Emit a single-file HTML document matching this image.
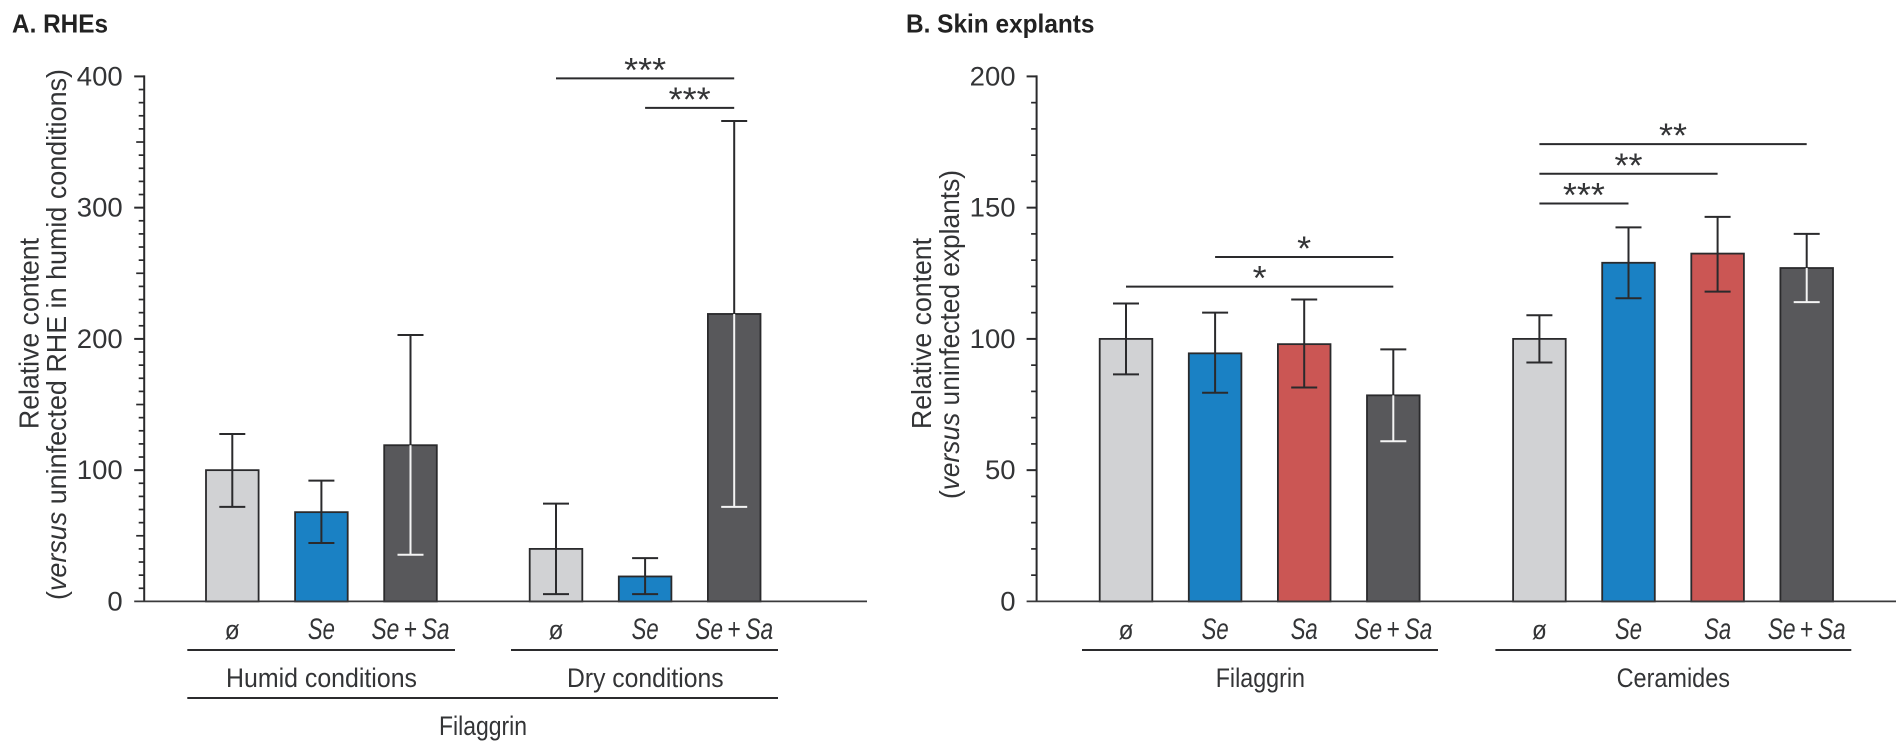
<!DOCTYPE html>
<html lang="en">
<head>
<meta charset="utf-8">
<title>Relative content bar charts</title>
<style>
html,body{margin:0;padding:0;background:#fff;width:1902px;height:751px;overflow:hidden}
svg{display:block}
text{font-family:"Liberation Sans",sans-serif;fill:#333436}
</style>
</head>
<body>
<svg id="figure" xmlns="http://www.w3.org/2000/svg" width="1902" height="751" viewBox="0 0 1902 751">
  <text x="12" y="32.5" font-size="26" font-weight="700" style="fill:#222" textLength="96" lengthAdjust="spacingAndGlyphs">A. RHEs</text>
  <text x="906" y="32.5" font-size="26" font-weight="700" style="fill:#222" textLength="188.5" lengthAdjust="spacingAndGlyphs">B. Skin explants</text>

  <text transform="translate(38.5,429) rotate(-90)" font-size="27.5" textLength="191" lengthAdjust="spacingAndGlyphs">Relative content</text>
  <text transform="translate(66,600) rotate(-90)" font-size="27.5" textLength="531" lengthAdjust="spacingAndGlyphs">(<tspan font-style="italic">versus</tspan> uninfected RHE in humid conditions)</text>
  <text transform="translate(931,429) rotate(-90)" font-size="27.5" textLength="191" lengthAdjust="spacingAndGlyphs">Relative content</text>
  <text transform="translate(959,499) rotate(-90)" font-size="27.5" textLength="329" lengthAdjust="spacingAndGlyphs">(<tspan font-style="italic">versus</tspan> uninfected explants)</text>

  <text x="226" y="687" font-size="26.5" textLength="191" lengthAdjust="spacingAndGlyphs">Humid conditions</text>
  <text x="567" y="687" font-size="26.5" textLength="156.6" lengthAdjust="spacingAndGlyphs">Dry conditions</text>
  <text x="439" y="735" font-size="26.5" textLength="88" lengthAdjust="spacingAndGlyphs">Filaggrin</text>
  <text x="1215.7" y="687" font-size="26.5" textLength="89.3" lengthAdjust="spacingAndGlyphs">Filaggrin</text>
  <text x="1616.6" y="687" font-size="26.5" textLength="113.4" lengthAdjust="spacingAndGlyphs">Ceramides</text>

  <g stroke="#2b2b2d" stroke-width="2">
    <line x1="187.3" x2="455" y1="650" y2="650"/>
    <line x1="511" x2="778" y1="650" y2="650"/>
    <line x1="187.3" x2="778" y1="698" y2="698"/>
    <line x1="1082" x2="1438" y1="650" y2="650"/>
    <line x1="1495.4" x2="1851.3" y1="650" y2="650"/>
  </g>
  <g id="plots"></g>
</svg>
<script>
// Panel A data
const aCategories = ['ø', 'Se', 'Se+Sa', 'ø', 'Se', 'Se+Sa'];
const aValues = [100, 68, 119, 40, 19, 219];
const aErrHigh = [127.5, 92, 203, 74.5, 33, 366];
const aErrLow = [72, 44.5, 35.5, 5.5, 5.5, 72];
const aColors = ['grey', 'blue', 'dark', 'grey', 'blue', 'dark'];
const aTicks = [0, 100, 200, 300, 400];
const aSigFrom = [3, 4];
const aSigTo = [5, 5];
const aSigLevel = [398.5, 376];
const aSigMark = ['***', '***'];

// Panel B data
const bCategories = ['ø', 'Se', 'Sa', 'Se+Sa', 'ø', 'Se', 'Sa', 'Se+Sa'];
const bValues = [100, 94.5, 98, 78.5, 100, 129, 132.5, 127];
const bErrHigh = [113.5, 110, 115, 96, 109, 142.5, 146.5, 140];
const bErrLow = [86.5, 79.5, 81.5, 61, 91, 115.5, 118, 114];
const bColors = ['grey', 'blue', 'red', 'dark', 'grey', 'blue', 'red', 'dark'];
const bTicks = [0, 50, 100, 150, 200];
const bSigFrom = [4, 4, 4, 1, 0];
const bSigTo = [7, 6, 5, 3, 3];
const bSigLevel = [174.2, 162.9, 151.6, 131.2, 119.9];
const bSigMark = ['**', '**', '***', '*', '*'];

const palette = {grey: '#d1d2d4', blue: '#1a81c4', red: '#cb5654', dark: '#58585b'};
const NS = 'http://www.w3.org/2000/svg';
const root = document.getElementById('plots');

function mk(tag, attrs, parent) {
  const el = document.createElementNS(NS, tag);
  for (const k in attrs) el.setAttribute(k, attrs[k]);
  parent.appendChild(el);
  return el;
}

function drawPanel(p) {
  const g = mk('g', {}, root);
  
  
  const y = v => p.y0 - v * (p.y0 - p.yTop) / p.yMax;
  const cx = i => i < p.split ? p.x0 + i * p.step : p.x1 + (i - p.split) * p.step;
  const barW = 52.6;

  // bars
  p.values.forEach((v, i) => {
    const bar = mk('rect', {x: cx(i) - barW / 2, y: y(v), width: barW, height: y(0) - y(v), fill: palette[p.colors[i]], stroke: '#2a2a2c', 'stroke-width': 1.8}, g);
    
    
  });

  // axes
  const yAxis = mk('line', {x1: p.axisX, x2: p.axisX, y1: y(p.yMax) - 1, y2: y(0), stroke: '#2a2a2c', 'stroke-width': 2}, g);
  
  
  const xAxis = mk('line', {x1: p.axisX - 10, x2: p.axisEnd, y1: y(0), y2: y(0), stroke: '#3a3a3c', 'stroke-width': 1.7}, g);
  
  

  // ticks
  const mid = p.yMax === 400 ? 50 : 1e9;
  for (let v = 10; v <= p.yMax; v += 10) {
    const major = p.ticks.includes(v);
    const len = major ? 10 : (v % mid === 0 ? 8 : 5.5);
    const t = mk('line', {x1: p.axisX - len, x2: p.axisX, y1: y(v), y2: y(v), stroke: '#2a2a2c', 'stroke-width': major ? 2 : 1.7}, g);
    
    
  }
  p.ticks.forEach(v => {
    const label = String(v);
    const t = mk('text', {x: p.tickRight, y: y(v) + 9, 'text-anchor': 'end', 'font-size': 26.5, textLength: label.length * 15.3, lengthAdjust: 'spacingAndGlyphs'}, g);
    t.textContent = label;
    
    
  });

  // error bars
  p.values.forEach((v, i) => {
    const isDark = p.colors[i] === 'dark';
    const low = isDark ? '#f4f4f4' : '#2a2a2c';
    const parts = [
      [cx(i), y(p.errHigh[i]), cx(i), y(v), '#2a2a2c'],
      [cx(i), y(v), cx(i), y(p.errLow[i]), low],
      [cx(i) - 13, y(p.errHigh[i]), cx(i) + 13, y(p.errHigh[i]), '#2a2a2c'],
      [cx(i) - 13, y(p.errLow[i]), cx(i) + 13, y(p.errLow[i]), low]
    ];
    parts.forEach(a => {
      const e = mk('line', {x1: a[0], y1: a[1], x2: a[2], y2: a[3], stroke: a[4], 'stroke-width': 2}, g);
      
      
    });
  });

  // category labels
  p.categories.forEach((c, i) => {
    const t = mk('text', {x: cx(i), y: 639, 'text-anchor': 'middle', 'font-size': c === 'ø' ? 27 : 30}, g);
    t.setAttribute('lengthAdjust', 'spacingAndGlyphs');
    if (c === 'ø') {
      t.setAttribute('textLength', 15);
      t.textContent = c;
    } else if (c.includes('+')) {
      const pair = c.split('+');
      t.setAttribute('textLength', 78);
      const a = mk('tspan', {'font-style': 'italic'}, t);
      a.textContent = pair[0];
      const plus = mk('tspan', {}, t);
      plus.textContent = '\u2009+\u2009';
      const b = mk('tspan', {'font-style': 'italic'}, t);
      b.textContent = pair[1];
    } else {
      t.setAttribute('font-style', 'italic');
      t.setAttribute('textLength', 27);
      t.textContent = c;
    }
    
    
  });

  // significance brackets
  p.sigLevel.forEach((lv, i) => {
    const x1 = cx(p.sigFrom[i]), x2 = cx(p.sigTo[i]);
    const l = mk('line', {x1: x1, x2: x2, y1: y(lv), y2: y(lv), stroke: '#2a2a2c', 'stroke-width': 2}, g);
    
    
    const n = p.sigMark[i].length;
    const s = mk('text', {x: (x1 + x2) / 2, y: y(lv) + 3, 'text-anchor': 'middle', 'font-size': 34, textLength: n * 14, lengthAdjust: 'spacingAndGlyphs'}, g);
    s.textContent = p.sigMark[i];
    
    
  });
}

drawPanel({id: 'panel-a', categories: aCategories, values: aValues, errHigh: aErrHigh, errLow: aErrLow, colors: aColors, ticks: aTicks, sigFrom: aSigFrom, sigTo: aSigTo, sigLevel: aSigLevel, sigMark: aSigMark, yMax: 400, y0: 601.4, yTop: 76.4, axisX: 144.2, axisEnd: 867, tickRight: 122.7, x0: 232.3, x1: 556, step: 89.1, split: 3});
drawPanel({id: 'panel-b', categories: bCategories, values: bValues, errHigh: bErrHigh, errLow: bErrLow, colors: bColors, ticks: bTicks, sigFrom: bSigFrom, sigTo: bSigTo, sigLevel: bSigLevel, sigMark: bSigMark, yMax: 200, y0: 601.4, yTop: 76.4, axisX: 1036.6, axisEnd: 1896, tickRight: 1015.6, x0: 1126, x1: 1539.4, step: 89.1, split: 4});
</script>
</body>
</html>
